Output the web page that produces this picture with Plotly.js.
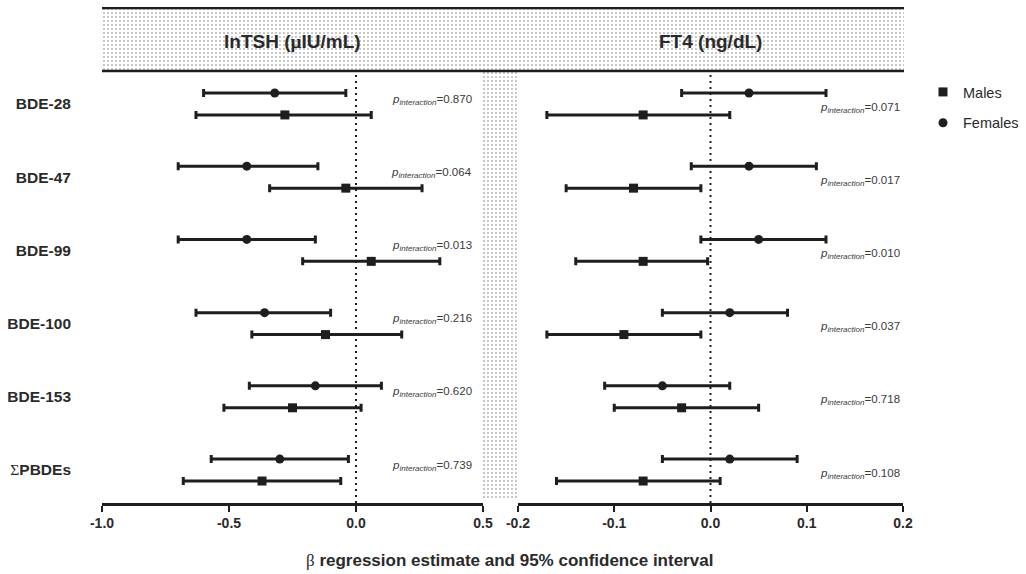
<!DOCTYPE html>
<html>
<head>
<meta charset="utf-8">
<script src="https://cdn.plot.ly/plotly-3.0.1.min.js"></script>
<style>html,body{margin:0;padding:0;background:#fff;}#chart{width:1026px;height:574px;}</style>
</head>
<body>
<div id="chart"></div>
<script>
// ---- Data ----
const categories = ['BDE-28', 'BDE-47', 'BDE-99', 'BDE-100', 'BDE-153', 'ΣPBDEs'];

// lnTSH (µIU/mL)
const tshFemaleEst = [-0.32, -0.43, -0.43, -0.36, -0.16, -0.30];
const tshFemaleLo  = [-0.60, -0.70, -0.70, -0.63, -0.42, -0.57];
const tshFemaleHi  = [-0.04, -0.15, -0.16, -0.10,  0.10, -0.03];
const tshMaleEst   = [-0.28, -0.04,  0.06, -0.12, -0.25, -0.37];
const tshMaleLo    = [-0.63, -0.34, -0.21, -0.41, -0.52, -0.68];
const tshMaleHi    = [ 0.06,  0.26,  0.33,  0.18,  0.02, -0.06];
const tshP = ['0.870', '0.064', '0.013', '0.216', '0.620', '0.739'];

// FT4 (ng/dL)
const ft4FemaleEst = [ 0.04,  0.04,  0.05,  0.02, -0.05,  0.02];
const ft4FemaleLo  = [-0.03, -0.02, -0.01, -0.05, -0.11, -0.05];
const ft4FemaleHi  = [ 0.12,  0.11,  0.12,  0.08,  0.02,  0.09];
const ft4MaleEst   = [-0.07, -0.08, -0.07, -0.09, -0.03, -0.07];
const ft4MaleLo    = [-0.17, -0.15, -0.14, -0.17, -0.10, -0.16];
const ft4MaleHi    = [ 0.02, -0.01, -0.003, -0.01, 0.05,  0.01];
const ft4P = ['0.071', '0.017', '0.010', '0.037', '0.718', '0.108'];

const xTicksTSH = [-1.0, -0.5, 0.0, 0.5];
const xTicksFT4 = [-0.2, -0.1, 0.0, 0.1, 0.2];

// ---- Styling / layout constants ----
const W = 1026, H = 574;
const FONT = 'Liberation Sans, Arial, Helvetica, sans-serif';
const SERIF = 'Liberation Serif, Times New Roman, serif';
const INK = '#1e1e1e';
const TXT = '#2a2a2a';
const rowIdx = categories.map((c, i) => i + 1);
const OFF = 0.15;
const femY = rowIdx.map(v => v - OFF);
const malY = rowIdx.map(v => v + OFF);
const px = (a, b) => [a / W, b / W];
const py = (top, bottom) => [(H - bottom) / H, (H - top) / H];

function errTrace(name, est, lo, hi, ys, xa, ya, symbol, show, group) {
  return {
    type: 'scatter', mode: 'markers', name: name,
    x: est, y: ys, xaxis: xa, yaxis: ya,
    legendgroup: group, showlegend: show,
    marker: {symbol: symbol, size: 9, color: INK},
    error_x: {
      type: 'data', symmetric: false,
      array: hi.map((h, i) => h - est[i]),
      arrayminus: lo.map((l, i) => est[i] - l),
      color: INK, thickness: 3, width: 4
    },
    cliponaxis: false, hoverinfo: 'skip'
  };
}

const labelTicks = categories.map(c => c.startsWith('Σ')
  ? '<span style="font-family:' + SERIF + ';font-weight:normal">Σ</span>' + c.slice(1)
  : c);

const pattern = {shape: '.', size: 4, solidity: 0.12, fgcolor: '#7a7a7a', bgcolor: '#ffffff', fillmode: 'replace'};

const traces = [
  // decorative dotted backgrounds (overlay axes measured in page pixels)
  {type: 'scatter', mode: 'none', x: [102, 904, 904, 102, 102], y: [9, 9, 70, 70, 9], xaxis: 'x3', yaxis: 'y3',
   fill: 'toself', fillcolor: '#ffffff', fillpattern: pattern, showlegend: false, hoverinfo: 'skip'},
  {type: 'scatter', mode: 'none', x: [483, 519, 519, 483, 483], y: [72, 72, 500, 500, 72], xaxis: 'x3', yaxis: 'y3',
   fill: 'toself', fillcolor: '#ffffff', fillpattern: pattern, showlegend: false, hoverinfo: 'skip'},
  errTrace('Males', tshMaleEst, tshMaleLo, tshMaleHi, malY, 'x', 'y', 'square', true, 'm'),
  errTrace('Females', tshFemaleEst, tshFemaleLo, tshFemaleHi, femY, 'x', 'y', 'circle', true, 'f'),
  errTrace('Males', ft4MaleEst, ft4MaleLo, ft4MaleHi, malY, 'x2', 'y2', 'square', false, 'm'),
  errTrace('Females', ft4FemaleEst, ft4FemaleLo, ft4FemaleHi, femY, 'x2', 'y2', 'circle', false, 'f')
];

const xCommon = {
  showgrid: false, zeroline: false, showline: true, linecolor: INK, linewidth: 2.5,
  ticks: 'outside', ticklen: 6, tickwidth: 2, tickcolor: INK,
  tickfont: {family: FONT, size: 14, color: TXT, weight: 'bold'},
  fixedrange: true
};
const yRange = [6.45, 0.55];

const annotations = [];
// panel titles
annotations.push({xref: 'x domain', yref: 'paper', x: 0.5, y: (H - 42) / H, yanchor: 'middle', showarrow: false,
  text: 'lnTSH (<span style="font-family:' + SERIF + '">µ</span>IU/mL)',
  font: {family: FONT, size: 19, color: TXT, weight: 'bold'}});
annotations.push({xref: 'x2 domain', yref: 'paper', x: 0.5, y: (H - 42) / H, yanchor: 'middle', showarrow: false,
  text: 'FT4 (ng/dL)', font: {family: FONT, size: 19, color: TXT, weight: 'bold'}});
// p-interaction labels
const pText = v => '<i>p</i><sub><i>interaction</i></sub>=' + v;
tshP.forEach((v, i) => annotations.push({xref: 'x', yref: 'y', x: 0.463, y: rowIdx[i] - 0.06, xanchor: 'right', yanchor: 'middle',
  showarrow: false, text: pText(v), font: {family: FONT, size: 11.5, color: '#3a3a3a'}}));
ft4P.forEach((v, i) => annotations.push({xref: 'x2', yref: 'y2', x: 0.199, y: rowIdx[i] + 0.05, xanchor: 'right', yanchor: 'middle',
  showarrow: false, text: pText(v), font: {family: FONT, size: 11.5, color: '#3a3a3a'}}));
// common x-axis title
annotations.push({xref: 'paper', yref: 'paper', x: 509 / W, y: (H - 560) / H, yanchor: 'middle', showarrow: false,
  text: '<span style="font-family:' + SERIF + ';font-weight:normal">β</span> regression estimate and 95% confidence interval',
  font: {family: FONT, size: 17, color: TXT, weight: 'bold'}});

const shapes = [
  {type: 'line', xref: 'x3', yref: 'y3', x0: 102, x1: 904, y0: 8, y1: 8, line: {color: INK, width: 2.5}},
  {type: 'line', xref: 'x3', yref: 'y3', x0: 102, x1: 904, y0: 71, y1: 71, line: {color: INK, width: 2.5}},
  {type: 'line', xref: 'x', yref: 'y domain', x0: 0, x1: 0, y0: 0, y1: 1, line: {color: INK, width: 2, dash: '2px,4px'}},
  {type: 'line', xref: 'x2', yref: 'y2 domain', x0: 0, x1: 0, y0: 0, y1: 1, line: {color: INK, width: 2, dash: '2px,4px'}}
];

const layout = {
  width: W, height: H,
  margin: {l: 0, r: 0, t: 0, b: 0, pad: 0},
  paper_bgcolor: '#ffffff', plot_bgcolor: 'rgba(0,0,0,0)',
  font: {family: FONT, color: TXT},
  showlegend: true,
  legend: {x: 923 / W, xanchor: 'left', y: (H - 76) / H, yanchor: 'top',
           traceorder: 'grouped', tracegroupgap: 9, bgcolor: 'rgba(0,0,0,0)',
           font: {family: FONT, size: 14.5, color: TXT}},
  xaxis: Object.assign({}, xCommon, {domain: px(102, 483), range: [-1.0, 0.5], tickvals: xTicksTSH,
    ticktext: xTicksTSH.map(v => v.toFixed(1)), anchor: 'y'}),
  yaxis: {domain: py(71, 503), range: yRange, showgrid: false, zeroline: false, showline: false,
    tickvals: rowIdx, ticktext: labelTicks, ticks: '', ticklabelstandoff: 30,
    tickfont: {family: FONT, size: 15.5, color: TXT, weight: 'bold'}, anchor: 'x', fixedrange: true},
  xaxis2: Object.assign({}, xCommon, {domain: px(518, 903), range: [-0.2, 0.2], tickvals: xTicksFT4,
    ticktext: xTicksFT4.map(v => v.toFixed(1)), anchor: 'y2'}),
  yaxis2: {domain: py(71, 503), range: yRange, showgrid: false, zeroline: false, showline: false,
    showticklabels: false, ticks: '', anchor: 'x2', fixedrange: true},
  xaxis3: {domain: px(102, 904), range: [102, 904], visible: false, anchor: 'y3', fixedrange: true},
  yaxis3: {domain: py(7, 503), range: [503, 7], visible: false, anchor: 'x3', fixedrange: true},
  annotations: annotations,
  shapes: shapes
};

Plotly.newPlot('chart', traces, layout, {displayModeBar: false, staticPlot: true});
</script>
</body>
</html>
